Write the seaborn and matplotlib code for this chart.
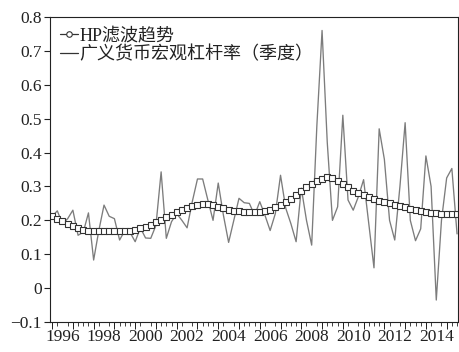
import numpy as np
import pandas as pd
import seaborn as sns
import matplotlib.pyplot as plt
from matplotlib.lines import Line2D

# quarterly series, 1996Q1 .. 2015Q3
quarters = pd.period_range("1996Q1", "2015Q3", freq="Q")
leverage = [
    0.212, 0.228, 0.190, 0.205, 0.230, 0.156, 0.165, 0.222, 0.083, 0.170,
    0.245, 0.212, 0.205, 0.142, 0.170, 0.165, 0.137, 0.178, 0.148, 0.147,
    0.185, 0.343, 0.147, 0.196, 0.220, 0.200, 0.178, 0.255, 0.322, 0.322,
    0.260, 0.200, 0.310, 0.215, 0.135, 0.200, 0.265, 0.252, 0.250, 0.215,
    0.255, 0.215, 0.170, 0.220, 0.333, 0.236, 0.190, 0.137, 0.295, 0.200,
    0.127, 0.480, 0.760, 0.430, 0.200, 0.240, 0.510, 0.260, 0.230, 0.270,
    0.320, 0.190, 0.060, 0.470, 0.380, 0.200, 0.142, 0.300, 0.488, 0.200,
    0.140, 0.175, 0.390, 0.300, -0.035, 0.200, 0.325, 0.353, 0.160,
]
hp_trend = [
    0.212, 0.205, 0.198, 0.190, 0.183, 0.177, 0.173, 0.170, 0.168, 0.168,
    0.168, 0.168, 0.168, 0.168, 0.168, 0.170, 0.172, 0.176, 0.181, 0.187,
    0.194, 0.201, 0.209, 0.217, 0.224, 0.231, 0.237, 0.242, 0.246, 0.248,
    0.247, 0.244, 0.240, 0.236, 0.232, 0.229, 0.227, 0.226, 0.225, 0.225,
    0.226, 0.228, 0.232, 0.238, 0.245, 0.254, 0.264, 0.275, 0.287, 0.298,
    0.308, 0.316, 0.322, 0.327, 0.325, 0.317, 0.307, 0.297, 0.288, 0.281,
    0.274, 0.268, 0.263, 0.258, 0.254, 0.250, 0.246, 0.242, 0.238, 0.234,
    0.230, 0.227, 0.224, 0.222, 0.221, 0.220, 0.220, 0.220, 0.220,
]
label_years = list(range(1996, 2015, 2))
y_ticks = [-0.1, 0, 0.1, 0.2, 0.3, 0.4, 0.5, 0.6, 0.7, 0.8]
y_labels = ["\u22120.1", "0", "0.1", "0.2", "0.3", "0.4", "0.5", "0.6", "0.7", "0.8"]
name_hp = "HP滤波趋势"
name_raw = "广义货币宏观杠杆率（季度）"

df = pd.DataFrame({
    "t": quarters.year + (quarters.quarter - 1) / 4,
    "raw": leverage,
    "hp": hp_trend,
})

sns.set_style("ticks")
plt.rcParams["font.family"] = ["Liberation Serif", "Noto Sans CJK SC"]
plt.rcParams["text.color"] = "#222222"
plt.rcParams["xtick.color"] = "#222222"
plt.rcParams["ytick.color"] = "#222222"

fig = plt.figure(figsize=(4.59, 3.52), dpi=100)
ax = fig.add_axes([0.109, 0.085, 0.889, 0.867])

sns.lineplot(data=df, x="t", y="raw", ax=ax, color="#7c7c7c", linewidth=0.95)
sns.lineplot(data=df, x="t", y="hp", ax=ax, color="#333333", linewidth=0.9,
             marker="s", markersize=4.2, markerfacecolor="white",
             markeredgecolor="#333333", markeredgewidth=0.8)

ax.set_xlim(1995.9, 2015.55)
ax.set_ylim(-0.1, 0.8)
ax.set_xlabel("")
ax.set_ylabel("")

ax.set_yticks(y_ticks)
ax.set_yticklabels(y_labels, fontsize=12.5)
ax.tick_params(axis="y", direction="out", length=4, width=0.8, pad=2)

# labels centred on the year, quarter minor ticks, year ticks on a second axis
ax.set_xticks([y + 0.5 for y in label_years])
ax.set_xticklabels([str(y) for y in label_years], fontsize=12.5)
ax.tick_params(axis="x", which="major", length=0, pad=5)
ax.set_xticks(df["t"], minor=True)
ax.tick_params(axis="x", which="minor", direction="out", length=3, width=0.6)
sec = ax.secondary_xaxis("bottom")
sec.set_xticks(range(1996, 2016))
sec.set_xticklabels([])
sec.tick_params(direction="out", length=5, width=0.7)
sec.spines["bottom"].set_visible(False)

for s in ax.spines.values():
    s.set_color("#222222")
    s.set_linewidth(0.8)

handles = [
    Line2D([], [], color="#333333", linewidth=0.9, marker="o", markersize=4,
           markerfacecolor="white", markeredgecolor="#333333", markeredgewidth=0.8),
    Line2D([], [], color="#333333", linewidth=0.9),
]
ax.legend(handles, [name_hp, name_raw], loc="upper left",
          bbox_to_anchor=(0.024, 0.965), frameon=False, fontsize=13,
          handlelength=1.0, handletextpad=0.1, labelspacing=0.1,
          borderpad=0, borderaxespad=0)

fig.savefig("out.png", dpi=100)
